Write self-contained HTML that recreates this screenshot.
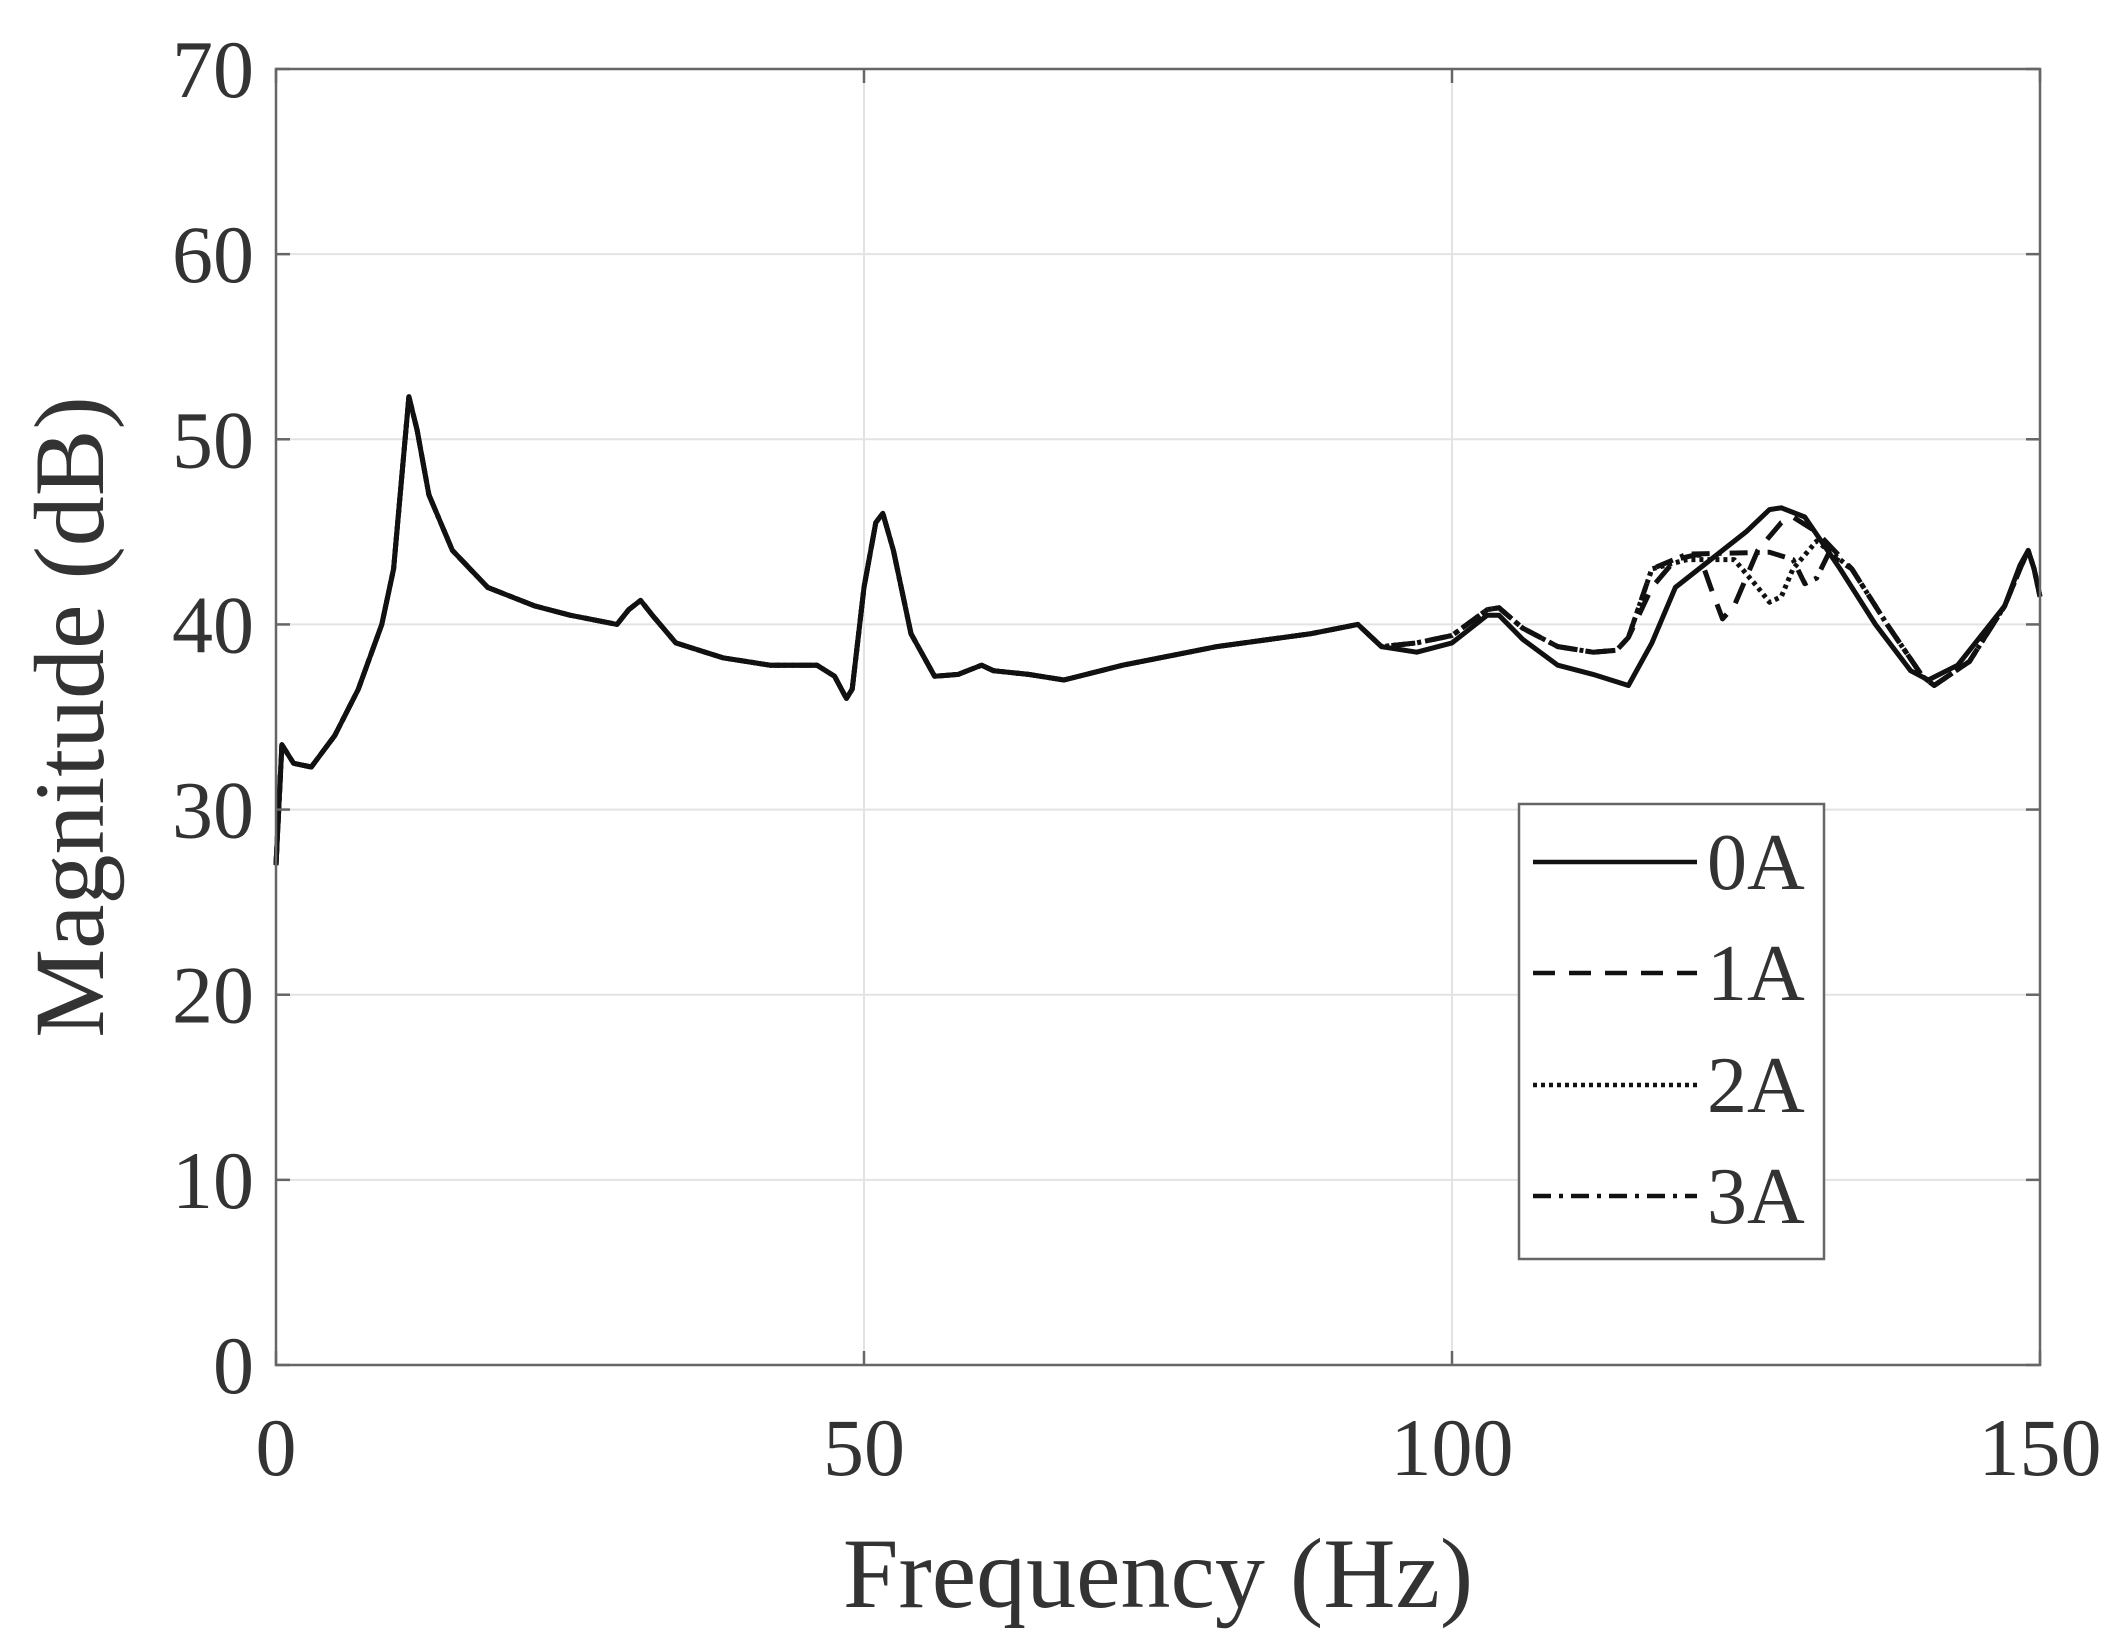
<!DOCTYPE html>
<html><head><meta charset="utf-8"><style>
html,body{margin:0;padding:0;background:#fff;}
svg{display:block}
text{font-family:"Liberation Serif",serif;fill:#333}
</style></head><body>
<svg id="s" width="2124" height="1648" viewBox="0 0 2124 1648" xmlns="http://www.w3.org/2000/svg">
<g id="grid" stroke="#e3e3e3" stroke-width="2"></g>
<g id="curves" fill="none" stroke="#111" stroke-width="5" stroke-linejoin="round"></g>
<rect x="276" y="69" width="1764" height="1296" fill="none" stroke="#666" stroke-width="2.5"/>
<g id="ticks" stroke="#666" stroke-width="2.5"></g>
<g font-size="82" text-anchor="end" id="ylab"></g>
<g font-size="82" text-anchor="middle" id="xlab"></g>
<text x="1158" y="1607" font-size="100" text-anchor="middle">Frequency (Hz)</text>
<text transform="translate(103,717) rotate(-90)" font-size="100" text-anchor="middle">Magnitude (dB)</text>
<rect x="1519" y="804" width="305" height="455" fill="#fff" stroke="#666" stroke-width="2.5"/>
<g stroke="#111" stroke-width="4.5" fill="none">
<line x1="1533" y1="862" x2="1697" y2="862"/>
<line x1="1533" y1="973" x2="1697" y2="973" stroke-dasharray="22,14"/>
<line x1="1533" y1="1085" x2="1697" y2="1085" stroke-dasharray="4,4"/>
<line x1="1533" y1="1196" x2="1697" y2="1196" stroke-dasharray="18,8,4,8"/>
</g>
<g font-size="80">
<text x="1707" y="889">0A</text>
<text x="1707" y="1000">1A</text>
<text x="1707" y="1112">2A</text>
<text x="1707" y="1223">3A</text>
</g>
</svg>
<script>
var L=276,R=2040,T=69,B=1365;
function X(f){return L+f*(R-L)/150}
function Y(d){return B-d*(B-T)/70}
var ns="http://www.w3.org/2000/svg";
function el(p,t,a,txt){var e=document.createElementNS(ns,t);for(var k in a)e.setAttribute(k,a[k]);if(txt)e.textContent=txt;document.getElementById(p).appendChild(e);return e;}
for(var d=10;d<70;d+=10)el("grid","line",{x1:L,y1:Y(d),x2:R,y2:Y(d)});
[50,100].forEach(function(f){el("grid","line",{x1:X(f),y1:T,x2:X(f),y2:B})});
for(var d=0;d<=70;d+=10){el("ticks","line",{x1:L,y1:Y(d),x2:L+14,y2:Y(d)});el("ticks","line",{x1:R,y1:Y(d),x2:R-14,y2:Y(d)});el("ylab","text",{x:254,y:Y(d)+28},""+d);}
[0,50,100,150].forEach(function(f){el("ticks","line",{x1:X(f),y1:B,x2:X(f),y2:B-14});el("ticks","line",{x1:X(f),y1:T,x2:X(f),y2:T+14});el("xlab","text",{x:X(f),y:1475},""+f);});
var base=[[0,27],[0.5,33.5],[1.5,32.5],[3,32.3],[5,34],[7,36.5],[9,40],[10,43],[10.7,48],[11.3,52.3],[12,50.5],[13,47],[15,44],[18,42],[22,41],[25,40.5],[29,40],[30,40.8],[31,41.3],[32,40.5],[34,39],[38,38.2],[42,37.8],[46,37.8],[47.5,37.2],[48.5,36],[49,36.5],[50,42],[51,45.5],[51.6,46],[52.5,44],[54,39.5],[56,37.2],[58,37.3],[60,37.8],[61,37.5],[64,37.3],[67,37],[72,37.8],[80,38.8],[88,39.5],[92,40],[94,38.8]];
var a0=base.concat([[97,38.5],[100,39],[103,40.5],[104,40.5],[106,39.2],[109,37.8],[112,37.3],[115,36.7],[117,39],[119,42],[122,43.5],[125,45],[127,46.2],[128,46.3],[130,45.8],[133,43],[136,40],[139,37.5],[140.5,37],[143,37.8],[147,41],[148.3,43.2],[149,44],[149.5,43],[150,41.5]]);
var mid=[[97,39],[100,39.4],[103,40.8],[104,40.9],[106,39.8],[109,38.8],[112,38.5],[114,38.6],[115,39.3]];
var tail=[[134,43],[137,40],[140,37.2],[141,36.7],[144,38],[147,41],[148.3,43],[149,44],[149.5,43],[150,41.5]];
var a1=base.concat(mid,[[117,42],[119,43.5],[121,43.8],[122,42],[123,40.3],[124,41],[126,44],[128,45.5],[129,45.8],[131,45]],tail);
var a2=base.concat(mid,[[117,43],[120,43.5],[124,43.5],[126,42],[127,41.2],[128,41.5],[129,43],[131,44.5],[133,43.5]],tail);
var a3=base.concat(mid,[[117,43],[120,43.8],[127,43.9],[129,43.5],[130,42.2],[131,42.5],[132,43.8],[133.5,43.2]],tail);
function path(a){return a.map(function(p,i){return (i?"L":"M")+X(p[0]).toFixed(1)+","+Y(p[1]).toFixed(1)}).join("")}
el("curves","path",{d:path(a3),"stroke-dasharray":"18,8,4,8"});
el("curves","path",{d:path(a2),"stroke-dasharray":"4,4"});
el("curves","path",{d:path(a1),"stroke-dasharray":"22,14"});
el("curves","path",{d:path(a0)});
</script>
</body></html>
